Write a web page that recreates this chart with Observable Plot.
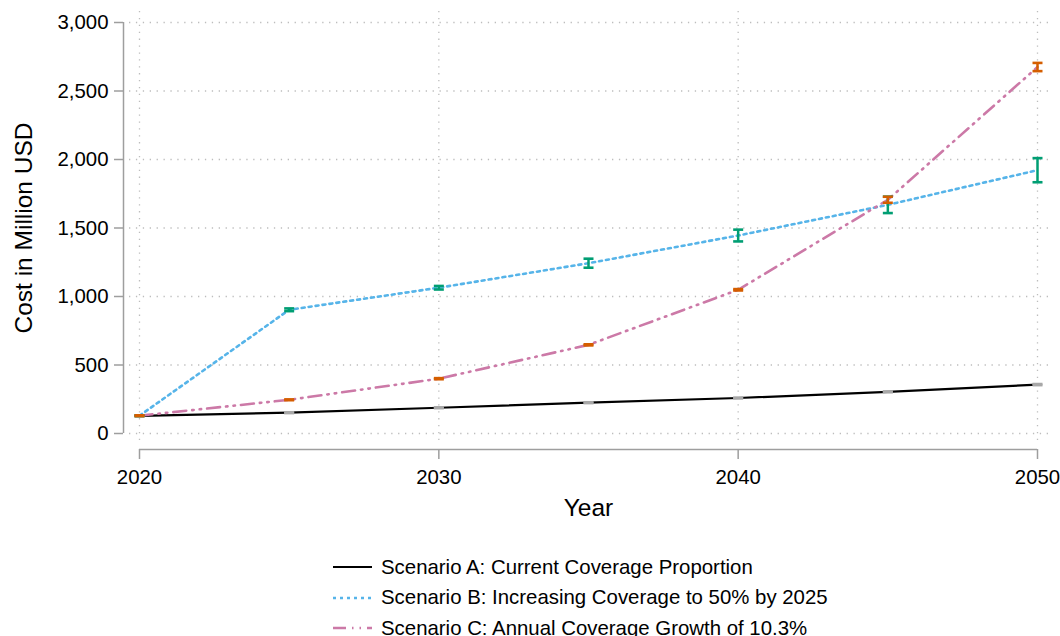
<!DOCTYPE html>
<html>
<head>
<meta charset="utf-8">
<script src="https://cdn.jsdelivr.net/npm/d3@7"></script>
<script src="https://cdn.jsdelivr.net/npm/@observablehq/plot@0.6"></script>
<style>
  html, body { margin: 0; padding: 0; background: #fff; overflow: hidden; }
  body { font-family: "Liberation Sans", Arial, sans-serif; width: 1060px; height: 636px; }
  #legend { margin-left: 333px; padding-top: 22px; }
  .row { display: flex; align-items: center; height: 30.5px; font-size: 20.4px; color: #000; }
  .row svg { margin-right: 9px; flex: none; }
</style>
</head>
<body>
<div id="chart"></div>
<div id="legend"></div>
<script>
const years = [2020, 2025, 2030, 2035, 2040, 2045, 2050];
const seriesNames = [
  "Scenario A: Current Coverage Proportion",
  "Scenario B: Increasing Coverage to 50% by 2025",
  "Scenario C: Annual Coverage Growth of 10.3%"
];
const valuesA = [129, 152, 188, 225, 259, 304, 357];
const lowA    = [126, 149, 185, 222, 256, 301, 353];
const highA   = [132, 155, 191, 228, 262, 307, 361];
const valuesB = [130, 903, 1064, 1243, 1445, 1669, 1922];
const lowB    = [127, 893, 1051, 1210, 1402, 1609, 1834];
const highB   = [133, 913, 1077, 1276, 1488, 1729, 2010];
const valuesC = [130, 246, 400, 647, 1049, 1706, 2675];
const lowC    = [127, 243, 396, 643, 1044, 1684, 2645];
const highC   = [133, 249, 404, 651, 1054, 1728, 2705];
const yTicks = [0, 500, 1000, 1500, 2000, 2500, 3000];
const xTicks = [2020, 2030, 2040, 2050];
const yTitle = "Cost in Million USD";
const xTitle = "Year";

const colors = {
  A: "#000000", B: "#56B4E9", C: "#CC79A7",
  barA: "#A8A8A8", barB: "#009E73", barC: "#D55E00"
};
const dashes = { A: null, B: "3,4", C: "13,6,1.5,6,1.5,6" };

const mk = (vals, lo, hi) => years.map((year, i) => ({year, value: vals[i], lo: lo[i], hi: hi[i]}));
const dataA = mk(valuesA, lowA, highA);
const dataB = mk(valuesB, lowB, highB);
const dataC = mk(valuesC, lowC, highC);

const capSymbol = {
  draw(context, size) {
    const r = Math.sqrt(size / Math.PI);
    context.moveTo(-r, 0);
    context.lineTo(r, 0);
  }
};

function bars(data, color) {
  return [
    Plot.ruleX(data, {x: "year", y1: "lo", y2: "hi", stroke: color, strokeWidth: 2.5}),
    Plot.dot(data, {x: "year", y: "lo", r: 5, symbol: capSymbol, stroke: color, strokeWidth: 2.6, fill: "none"}),
    Plot.dot(data, {x: "year", y: "hi", r: 5, symbol: capSymbol, stroke: color, strokeWidth: 2.6, fill: "none"})
  ];
}

const axisColor = "#9e9e9e";
const chart = Plot.plot({
  width: 1060,
  height: 530,
  marginLeft: 139,
  marginRight: 23,
  marginTop: 22,
  marginBottom: 97,
  style: {fontFamily: '"Liberation Sans", Arial, sans-serif', color: "#000", background: "#fff"},
  x: {domain: [2020, 2050], axis: null},
  y: {domain: [0, 3000], axis: null},
  marks: [
    Plot.gridY(yTicks, {stroke: "#bdbdbd", strokeOpacity: 1, strokeWidth: 1.3, strokeDasharray: "1.3,5.6", insetLeft: -10, insetRight: -16}),
    Plot.gridX(xTicks, {stroke: "#bdbdbd", strokeOpacity: 1, strokeWidth: 1.3, strokeDasharray: "1.3,5.6", insetTop: -11, insetBottom: -10}),
    Plot.axisY({ticks: yTicks, tickFormat: d3.format(","), tickSize: 9, tickPadding: 6, dx: -16, fontSize: 20.4, stroke: axisColor, strokeWidth: 1.5, fill: "#000", label: null}),
    Plot.axisX({ticks: xTicks, tickFormat: d => String(d), tickSize: 10, tickPadding: 10, dy: 16, fontSize: 20.4, stroke: axisColor, strokeWidth: 1.5, fill: "#000", label: null}),
    Plot.ruleX([yTicks[0]], {x: () => xTicks[0], y1: yTicks[0], y2: yTicks[yTicks.length - 1], dx: -16, stroke: axisColor, strokeWidth: 1.5}),
    Plot.ruleY([yTicks[0]], {x1: xTicks[0], x2: xTicks[xTicks.length - 1], dy: 16, stroke: axisColor, strokeWidth: 1.5}),
    Plot.text([yTitle], {frameAnchor: "left", rotate: -90, textAnchor: "middle", lineAnchor: "middle", dx: -115, fontSize: 24.5, fill: "#000"}),
    Plot.text([xTitle], {frameAnchor: "bottom", textAnchor: "middle", lineAnchor: "middle", dy: 75, fontSize: 24.5, fill: "#000"}),
    Plot.line(dataA, {x: "year", y: "value", stroke: colors.A, strokeWidth: 2.2}),
    Plot.line(dataB, {x: "year", y: "value", stroke: colors.B, strokeWidth: 2.6, strokeDasharray: dashes.B}),
    Plot.line(dataC, {x: "year", y: "value", stroke: colors.C, strokeWidth: 2.6, strokeDasharray: dashes.C}),
    ...bars(dataA, colors.barA),
    ...bars(dataB, colors.barB),
    ...bars(dataC, colors.barC)
  ]
});
document.getElementById("chart").appendChild(chart);

const legend = document.getElementById("legend");
const keys = ["A", "B", "C"];
keys.forEach((k, i) => {
  const row = document.createElement("div");
  row.className = "row";
  const dash = dashes[k] ? ` stroke-dasharray="${dashes[k]}"` : "";
  row.innerHTML = `<svg width="39" height="10"><line x1="0" y1="5" x2="39" y2="5" stroke="${colors[k]}" stroke-width="${k === "A" ? 2.2 : 2.6}"${dash}/></svg><span>${seriesNames[i]}</span>`;
  legend.appendChild(row);
});
</script>
</body>
</html>
